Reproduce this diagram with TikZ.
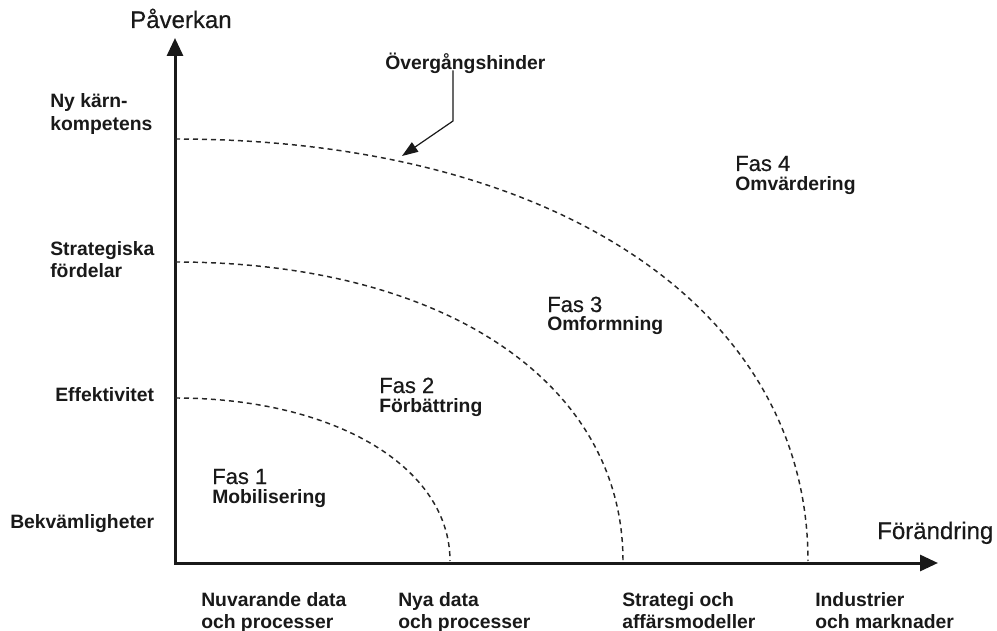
\documentclass[tikz,border=0pt]{standalone}
\usepackage{fontspec}
\setmainfont{Liberation Sans}
\newfontfamily\medfont[FakeBold=0.5]{Liberation Sans}
\usetikzlibrary{arrows.meta}
\begin{document}
\begin{tikzpicture}[x=0.75pt,y=-0.75pt,
  lbl/.style={anchor=base west,inner sep=0pt,font=\fontsize{14.5}{17}\selectfont\bfseries,text=black!90},
  fas/.style={anchor=base west,inner sep=0pt,font=\medfont\fontsize{16.5}{19}\selectfont,text=black!90},
  axtitle/.style={anchor=base west,inner sep=0pt,font=\medfont\fontsize{18}{21}\selectfont,text=black!90},
  axisline/.style={line width=2.25pt,black!90,{Triangle[length=13.5pt,width=12pt]}-{Triangle[length=13.5pt,width=12pt]}},
  phase/.style={line width=1.1pt,black!85,dash pattern=on 3.75pt off 3pt},
  leader/.style={line width=0.9pt,black!90,-{Triangle[length=12pt,width=8.5pt]}}]
\useasboundingbox (0,0) rectangle (997,631);
% axes
\coordinate (ytop) at (175,38);
\coordinate (orig) at (175,563);
\coordinate (xend) at (938,563);
\draw[axisline] (ytop) -- (orig) -- (xend);
% axis titles
\node[axtitle] (pav) at (130,28) {Påverkan};
\node[axtitle] (forand) at (877,539) {Förändring};
% y labels
\node[lbl] (y4a) at (50,108) {Ny kärn-};
\node[lbl] (y4b) at (50,131) {kompetens};
\node[lbl] (y3a) at (50,256) {Strategiska};
\node[lbl] (y3b) at (50,278) {fördelar};
\node[lbl] (y2) at (55,402) {Effektivitet};
\node[lbl] (y1) at (10,528) {Bekvämligheter};
% x labels
\node[lbl] (x1a) at (201,606) {Nuvarande data};
\node[lbl] (x1b) at (201,628) {och processer};
\node[lbl] (x2a) at (398,606) {Nya data};
\node[lbl] (x2b) at (398,628) {och processer};
\node[lbl] (x3a) at (622,606) {Strategi och};
\node[lbl] (x3b) at (622,628) {affärsmodeller};
\node[lbl] (x4a) at (815,606) {Industrier};
\node[lbl] (x4b) at (815,628) {och marknader};
% phase curves
\draw[phase] (175,398) .. controls (334.5,398) and (450,467) .. (450,561);
\draw[phase] (175,262) .. controls (443.8,262) and (623,382.4) .. (623,561);
\draw[phase] (175,139) .. controls (554.8,139) and (808,308.6) .. (808,561);
% phase labels
\node[fas] (f1) at (212,484) {Fas 1};
\node[lbl] (f1s) at (212,503) {Mobilisering};
\node[fas] (f2) at (379,393) {Fas 2};
\node[lbl] (f2s) at (379,412) {Förbättring};
\node[fas] (f3) at (547,312) {Fas 3};
\node[lbl] (f3s) at (547,330) {Omformning};
\node[fas] (f4) at (735,171) {Fas 4};
\node[lbl] (f4s) at (735,191) {Omvärdering};
% barrier label and leader
\node[lbl] (hinder) at (385,70) {Övergångshinder};
\coordinate (lbend) at (453,121);
\coordinate (ltip) at (402,156);
\draw[leader] (hinder.south -| lbend) ++(0,-4) -- (lbend) -- (ltip);
\end{tikzpicture}
\end{document}
